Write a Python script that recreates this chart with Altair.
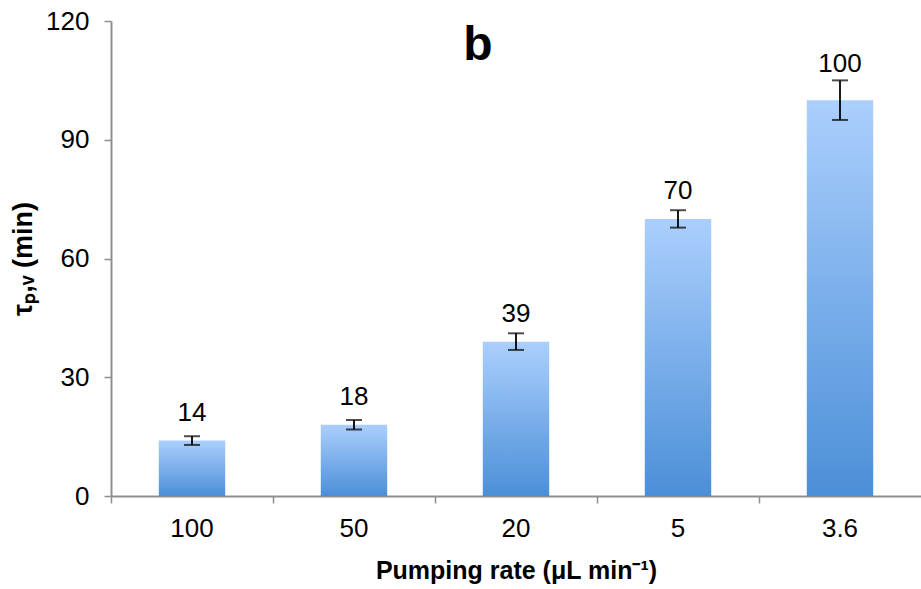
import altair as alt
import pandas as pd

rates = ["100", "50", "20", "5", "3.6"]
values = [14, 18, 39, 70, 100]
errors = [1.1, 1.2, 2.1, 2.2, 5.0]
label_at = [14, 18, 39, 70, 102]

df = pd.DataFrame({"rate": rates, "value": values, "err": errors, "label_at": label_at})
df["lo"] = df["value"] - df["err"]
df["hi"] = df["value"] + df["err"]

FONT = "Liberation Sans"
AXIS_GREY = "#8f8f8f"

xscale = alt.Scale(domain=rates, paddingInner=0, paddingOuter=0)
yscale = alt.Scale(domain=[0, 120], nice=False)

grad = alt.Gradient(
    gradient="linear",
    stops=[alt.GradientStop(color="#abcffd", offset=0),
           alt.GradientStop(color="#4b8fd8", offset=1)],
    x1=0, x2=0, y1=0, y2=1,
)

bars = alt.Chart(df).mark_bar(color=grad, width={"band": 0.41}).encode(
    x=alt.X("rate:N", sort=rates, scale=xscale,
            axis=alt.Axis(orient="bottom", title="Pumping rate (μL min⁻¹)", ticks=False,
                          domain=False, tickSize=0, labelPadding=19, labelAngle=0,
                          labelFontSize=26, labelFont=FONT, labelColor="black",
                          titleFont=FONT, titleFontSize=25, titleFontWeight="bold",
                          titleColor="black", titlePadding=17)),
    y=alt.Y("value:Q", scale=yscale,
            axis=alt.Axis(title="τₚ,ᵥ (min)", values=[0, 30, 60, 90, 120], grid=False,
                          tickSize=7, tickColor=AXIS_GREY, tickWidth=1.5,
                          domainColor=AXIS_GREY, domainWidth=2,
                          labelFontSize=26, labelFont=FONT, labelColor="black",
                          labelPadding=15,
                          titleFont=FONT, titleFontSize=27, titleFontWeight="bold",
                          titleColor="black", titlePadding=8)),
)

rules = alt.Chart(df).mark_rule(color="black", strokeWidth=1.8).encode(
    x=alt.X("rate:N", sort=rates, scale=xscale,
            axis=alt.Axis(orient="bottom", title=None, labels=False, ticks=True,
                          domain=True, bandPosition=0, tickSize=7, tickColor=AXIS_GREY,
                          tickWidth=1.5, domainColor=AXIS_GREY, domainWidth=2)),
    y=alt.Y("lo:Q", scale=yscale),
    y2="hi:Q",
)

cap_lo = alt.Chart(df).mark_tick(color="black", size=16, thickness=2).encode(
    x=alt.X("rate:N", sort=rates, scale=xscale, axis=None),
    y=alt.Y("lo:Q", scale=yscale),
)
cap_hi = alt.Chart(df).mark_tick(color="black", size=16, thickness=2).encode(
    x=alt.X("rate:N", sort=rates, scale=xscale, axis=None),
    y=alt.Y("hi:Q", scale=yscale),
)

labels = alt.Chart(df).mark_text(font=FONT, fontSize=26, color="black",
                                 baseline="bottom", dy=-15).encode(
    x=alt.X("rate:N", sort=rates, scale=xscale, axis=None),
    y=alt.Y("label_at:Q", scale=yscale),
    text=alt.Text("value:Q"),
)

panel = alt.Chart(pd.DataFrame({"t": ["b"]})).mark_text(
    font=FONT, fontSize=48, fontWeight="bold", color="black",
    align="center", baseline="alphabetic").encode(
    x=alt.value(367), y=alt.value(39), text="t:N")

chart = alt.layer(bars, rules, cap_lo, cap_hi, labels, panel).resolve_axis(
    x="independent"
).properties(
    width=810, height=475,
    autosize=alt.AutoSizeParams(type="none"),
    padding={"left": 111, "top": 21, "right": 0, "bottom": 93},
    background="white",
).configure_view(stroke=None)

chart.save("out.html", embed_options={"renderer": "svg", "actions": False})
